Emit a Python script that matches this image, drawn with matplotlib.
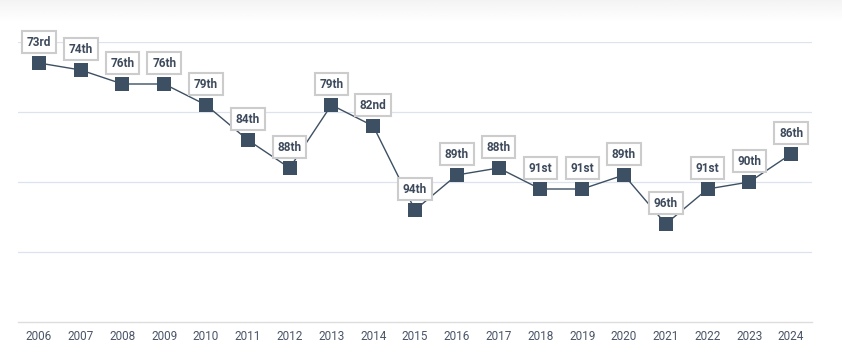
import matplotlib.pyplot as plt
import numpy as np

years = [2006, 2007, 2008, 2009, 2010, 2011, 2012, 2013, 2014, 2015,
         2016, 2017, 2018, 2019, 2020, 2021, 2022, 2023, 2024]
ranks = [73, 74, 76, 76, 79, 84, 88, 79, 82, 94,
         89, 88, 91, 91, 89, 96, 91, 90, 86]
labels = ['73rd', '74th', '76th', '76th', '79th', '84th', '88th', '79th', '82nd', '94th',
          '89th', '88th', '91st', '91st', '89th', '96th', '91st', '90th', '86th']

plt.rcParams['font.family'] = ['Roboto', 'DejaVu Sans']

fig = plt.figure(figsize=(8.42, 3.58), dpi=100)

# soft shadow band at the top
grad = fig.add_axes([0, 1 - 22 / 358, 1, 22 / 358])
g = np.linspace(0.955, 1.0, 50).reshape(-1, 1)
grad.imshow(g, aspect='auto', cmap='gray', vmin=0, vmax=1, extent=[0, 1, 0, 1])
grad.axis('off')

ax = fig.add_axes([18 / 842, (358 - 322) / 358, (812 - 18) / 842, 280 / 358])
x = np.arange(len(years))

ax.plot(x, ranks, color='#3d5063', lw=1, zorder=3)
ax.scatter(x, ranks, marker='s', s=110, color='#3d5063', zorder=4, linewidths=0)

for xi, r, lab in zip(x, ranks, labels):
    ax.annotate(lab, (xi, r), xytext=(0, 15), textcoords='offset points',
                ha='center', va='center', fontsize=8.5, fontweight='bold',
                color='#3d4a5c', zorder=5,
                bbox=dict(boxstyle='square,pad=0.4', fc='white', ec='#cccccc', lw=1.5))

ax.set_xlim(-0.5, len(years) - 0.5)
ax.set_ylim(110, 70)
ax.set_yticks([70, 80, 90, 100])
ax.set_yticklabels([])
ax.grid(axis='y', color='#dde3ee', lw=0.9)
ax.tick_params(axis='y', length=0)
ax.set_xticks(x)
ax.set_xticklabels([str(y) for y in years], fontsize=8.5, color='#4a5568')
ax.tick_params(axis='x', length=0, pad=6)

for s in ['top', 'right', 'left']:
    ax.spines[s].set_visible(False)
ax.spines['bottom'].set_color('#dddddd')
ax.spines['bottom'].set_linewidth(1)
ax.set_axisbelow(True)

fig.savefig('out.png', dpi=100)
